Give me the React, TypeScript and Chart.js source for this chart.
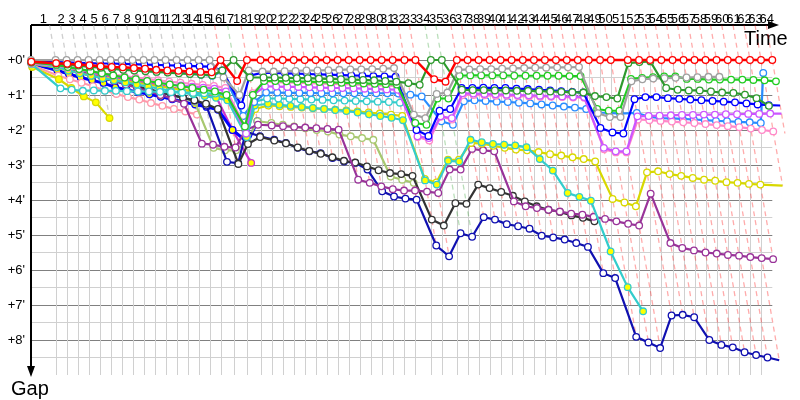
import React, { useEffect, useRef } from "react";
import { Chart, registerables } from "chart.js";
Chart.register(...registerables);

// Lap numbers shown on the time axis
const lapLabels = ["1","2","3","4","5","6","7","8","9","10","11","12","13","14","15","16","17","18","19","20","21","22","23","24","25","26","27","28","29","30","31","32","33","34","35","36","37","38","39","40","41","42","43","44","45","46","47","48","49","50","51","52","53","54","55","56","57","58","59","60","61","62","63","64"];

// Leader race time (minutes) at the end of each lap, lap 0 = start
const leaderTime = [0, 4.10, 5.93, 7.77, 9.60, 11.43, 13.27, 15.10, 16.93, 18.77,
  20.60, 22.43, 24.27, 26.10, 27.93, 29.77, 31.60, 33.77, 36.00, 38.27,
  40.13, 41.97, 43.80, 45.63, 47.47, 49.30, 51.13, 52.97, 54.80, 56.63,
  58.47, 60.30, 62.27, 64.10, 66.67, 68.50, 71.00, 72.80, 74.63, 76.47,
  78.30, 80.13, 82.00, 83.85, 85.68, 87.52, 89.33, 91.17, 93.00, 94.88,
  96.67, 99.50, 101.38, 103.22, 105.10, 106.97, 108.80, 110.63, 112.47, 114.30,
  116.17, 118.05, 119.88, 121.72, 123.60];

// Gap ticks (minutes) labelled on the gap axis
const gapTickValues = [0, 1, 2, 3, 4, 5, 6, 7, 8];

// Gap to leader (minutes) per lap, null = no lap
const _ = null;
const redGap = [0.05,0.09,0.11,0.13,0.15,0.18,0.2,0.21,0.23,0.25,
  0.28,0.3,0.31,0.33,0.34,0.35,0,0.6,0,0,
  0,0,0,0,0,0,0,0,0,0,
  0,0,0,0,0.55,0.62,0,0,0,0,
  0,0,0,0,0,0,0,0,0,0,
  0,0,0,0,0,0,0,0,0,0,
  0,0,0,0,0];
const greyGap = [0,0,0,0,0,0,0,0,0,0,
  0,0,0,0,0,0,0.5,1.0,0.3,0.33,
  0.33,0.32,0.31,0.3,0.3,0.29,0.28,0.27,0.27,0.26,
  0.25,0.23,1.56,1.66,0.97,0.93,0.28,0.27,0.26,0.26,
  0.25,0.24,0.23,0.22,0.22,0.21,0.21,0.2,1.52,1.63,
  1.63,0.61,0.55,0.53,0.52,0.51,0.5,0.49,0.48,0.48,
  _,_,_,_,_];
const blueGap = [0.05,0.06,0.07,0.08,0.09,0.1,0.1,0.11,0.12,0.13,
  0.14,0.15,0.16,0.17,0.18,0.19,0.3,1.3,0.45,0.36,
  0.37,0.38,0.39,0.4,0.41,0.42,0.43,0.44,0.45,0.46,
  0.47,0.48,2.0,2.17,1.45,1.4,0.8,0.8,0.79,0.8,
  0.8,0.82,0.83,0.85,0.87,0.89,0.91,0.93,1.94,2.07,
  2.1,1.12,1.06,1.06,1.09,1.11,1.13,1.15,1.17,1.19,
  1.21,1.24,1.27,1.29,1.3];
const darkGreenGap = [0.05,0.1,0.13,0.16,0.19,0.22,0.25,0.28,0.3,0.32,
  0.34,0.36,0.38,0.4,0.42,0.44,0.3,0,0.5,0.5,
  0.5,0.51,0.52,0.52,0.53,0.54,0.55,0.56,0.57,0.58,
  0.6,0.62,0.66,0.71,0,0,0.85,0.86,0.86,0.87,
  0.87,0.88,0.88,0.89,0.9,0.91,0.92,0.93,1.03,1.06,
  1.1,0.09,0.06,0.04,0.8,0.85,0.87,0.87,0.9,0.93,
  0.94,0.99,1.09,1.31,_];
const greenGap = [0.07,0.14,0.2,0.26,0.32,0.38,0.44,0.5,0.55,0.6,
  0.65,0.7,0.75,0.8,0.85,0.9,1.0,1.9,1.0,0.6,
  0.6,0.61,0.62,0.62,0.63,0.64,0.65,0.66,0.67,0.68,
  0.69,0.7,1.8,1.85,1.1,1.1,0.45,0.44,0.44,0.44,
  0.44,0.45,0.45,0.45,0.45,0.45,0.46,0.46,1.4,1.45,
  1.45,0.54,0.51,0.49,0.47,0.47,0.54,0.54,0.56,0.56,
  0.56,0.56,0.57,0.58,0.61];
const violetGap = [0.08,0.15,0.21,0.27,0.33,0.39,0.45,0.5,0.55,0.6,
  0.65,0.7,0.73,0.76,0.79,0.82,0.9,2.1,1.0,0.75,
  0.76,0.77,0.77,0.78,0.79,0.8,0.8,0.81,0.82,0.83,
  0.84,0.85,2.18,2.23,1.61,1.66,0.95,0.96,0.97,0.98,
  0.99,1.0,1.01,1.02,1.03,1.04,1.05,1.06,2.51,2.61,
  2.61,1.61,1.6,1.59,1.58,1.57,1.57,1.56,1.56,1.55,
  1.55,1.54,1.54,1.53,1.53];
const pinkGap = [0.1,0.16,0.22,0.28,0.33,0.38,0.42,0.46,0.5,0.54,
  0.58,0.62,0.65,0.68,0.71,0.74,0.8,1.9,0.95,0.62,
  0.63,0.64,0.65,0.66,0.67,0.68,0.69,0.7,0.71,0.72,
  0.73,0.74,2.2,2.3,1.62,1.7,1.0,1.0,1.01,1.02,
  1.02,1.03,1.04,1.05,1.05,1.06,1.07,1.08,2.55,2.64,
  2.64,1.7,1.72,1.74,1.76,1.78,1.8,1.83,1.86,1.89,
  1.92,1.96,2.0,2.04,2.1];
const skyGap = [0.06,0.1,0.13,0.16,0.19,0.22,0.25,0.27,0.29,0.31,
  0.33,0.35,0.37,0.39,0.42,0.45,0.33,1.6,1.2,0.93,
  0.93,0.94,0.94,0.94,0.95,0.95,0.95,0.95,0.95,0.95,
  0.95,0.96,0.99,1.04,1.75,1.85,1.18,1.15,1.17,1.19,
  1.2,1.22,1.24,1.27,1.3,1.33,1.36,1.4,1.5,1.51,
  1.53,1.51,1.62,1.66,1.67,1.68,1.7,1.72,1.74,1.75,
  1.77,1.78,1.8,0.37,_];
const cyanGap = [0.12,0.81,0.85,0.88,0.87,0.88,0.88,0.89,0.9,0.9,
  0.91,0.92,0.93,0.94,0.95,0.96,1.0,2.1,1.2,1.1,
  1.1,1.11,1.12,1.13,1.14,1.15,1.16,1.17,1.18,1.19,
  1.2,1.22];
const turquoiseGap = [0.1,0.2,0.3,0.38,0.45,0.52,0.58,0.64,0.7,0.76,
  0.82,0.88,0.93,0.98,1.03,1.08,1.15,2.2,1.3,1.25,
  1.28,1.31,1.34,1.37,1.4,1.43,1.46,1.5,1.55,1.6,
  1.65,1.72,3.44,3.56,2.88,2.9,2.28,2.35,2.4,2.42,
  2.44,2.49,2.83,3.16,3.8,3.91,4.02,5.47,6.49,7.18];
const yellowGap = [0.1,0.22,0.3,0.38,0.45,0.5,0.55,0.6,0.65,0.7,
  0.75,0.8,0.85,0.9,0.95,1.0,1.1,2.1,1.4,1.3,
  1.32,1.34,1.36,1.38,1.4,1.42,1.44,1.47,1.5,1.53,
  1.56,1.6,3.4,3.5,2.85,2.85,2.37,2.39,2.45,2.51,
  2.56,2.58,2.63,2.69,2.73,2.78,2.83,2.9,3.97,4.07,
  4.18,3.21,3.18,3.26,3.31,3.37,3.42,3.45,3.49,3.51,
  3.54,3.56,_,3.59,_];
const gold2Gap = [0.2,0.55,0.8,1.04,1.21,1.66];
const purpleGap = [0.1,0.18,0.26,0.34,0.42,0.5,0.6,0.7,0.8,0.9,
  1.0,1.1,1.25,2.39,2.42,2.48,2.5,2.0,1.85,1.87,
  1.89,1.91,1.93,1.95,1.97,1.99,3.42,3.51,3.61,3.69,
  3.73,3.73,3.76,3.8,3.13,3.13,2.54,2.58,2.61,4.04,
  4.18,4.23,4.28,4.33,4.39,4.42,4.48,4.54,4.61,4.68,
  4.73,3.82,5.23,5.37,5.44,5.5,5.53,5.57,5.59,5.63,
  5.66,5.69];
const blackGap = [0.1,0.2,0.28,0.36,0.44,0.52,0.6,0.68,0.76,0.84,
  0.92,1.0,1.08,1.15,1.25,1.4,2.97,2.4,2.2,2.3,
  2.38,2.5,2.6,2.68,2.78,2.88,2.93,3.04,3.15,3.23,
  3.26,3.31,4.56,4.73,4.09,4.11,3.56,3.66,3.77,3.88,
  4.04,4.18,4.28,4.34,4.44,4.51,4.61];
const navyGap = [0.1,0.2,0.28,0.36,0.44,0.52,0.6,0.68,0.76,0.84,
  0.92,1.0,1.08,1.16,1.3,2.91,2.95,2.05,2.18,2.28,
  2.37,2.51,2.61,2.66,2.8,2.9,2.94,3.13,3.75,3.9,
  3.96,3.99,5.3,5.61,4.95,5.05,4.49,4.56,4.69,4.75,
  4.82,5.02,5.07,5.13,5.23,5.34,6.09,6.23,7.91,8.07,
  8.23,7.3,7.28,7.35,8.0,8.14,8.21,8.35,8.43,8.5,
  8.58];
const oliveGap = [0.12,0.2,0.28,0.36,0.44,0.52,0.6,0.68,0.76,0.84,
  0.92,1.0,1.1,1.2,2.51,2.58,2.58,2.3,1.75,1.8,
  1.85,1.9,1.95,2.0,2.04,2.13,2.18,2.23,2.28,3.33,
  3.42,3.51];
const rosyGap = [0.15,0.45,0.55,0.65,0.75,0.87,0.97,1.06,1.13,1.23,1.31,1.4,1.47,1.56];
const royalGap = [0.1,0.3,0.4,0.5,0.58,0.66,0.78,0.85,0.92,0.98,
  1.05,1.12,1.2,1.27,1.34,1.42,2.0,2.35,1.75];
const orchidGap = [0.08,0.15,0.22,0.3,0.36,0.42,0.48,0.54,0.6,0.66,
  0.72,0.78,0.84,0.9,0.96,1.02,2.0,2.94];

const seriesList = [
  { gaps: redGap, color: "#ff0000", fill: "#ffffff", width: 2.5 },
  { gaps: darkGreenGap, color: "#2e9a2e", fill: "#ffffff", width: 2.2 },
  { gaps: greyGap, color: "#a0a0a0", fill: "#ffffff", width: 2.2 },
  { gaps: greenGap, color: "#22cc22", fill: "#ffffff", width: 2.2 },
  { gaps: blueGap, color: "#0000ff", fill: "#ffffff", width: 2.2 },
  { gaps: violetGap, color: "#cc55ff", fill: "#ffffff", width: 2.2 },
  { gaps: pinkGap, color: "#ff88c8", fill: "#ffffff", width: 2.2 },
  { gaps: skyGap, color: "#2a8cff", fill: "#ffffff", width: 2.2 },
  { gaps: cyanGap, color: "#33cccc", fill: "#ffffff", width: 2.2 },
  { gaps: turquoiseGap, color: "#33cccc", fill: "#ffff00", width: 2.2 },
  { gaps: yellowGap, color: "#d8d800", fill: "#ffffff", width: 2.2 },
  { gaps: gold2Gap, color: "#d8d800", fill: "#ffff00", width: 2.2 },
  { gaps: purpleGap, color: "#993399", fill: "#ffffff", width: 2.2 },
  { gaps: blackGap, color: "#333333", fill: "#ffffff", width: 2.2 },
  { gaps: navyGap, color: "#1010b0", fill: "#ffffff", width: 2.2 },
  { gaps: oliveGap, color: "#a8c870", fill: "#ffffff", width: 2.2 },
  { gaps: rosyGap, color: "#ff99aa", fill: "#ffffff", width: 2.2 },
  { gaps: royalGap, color: "#0000ff", fill: "#ffff00", width: 3 },
  { gaps: orchidGap, color: "#cc33cc", fill: "#ffff00", width: 2.2 },
];

const TOP_GAP = -1;
const BOTTOM_GAP = 9;

function toPoints(gaps: (number | null)[]) {
  const pts: { x: number; y: number }[] = [];
  gaps.forEach((g, i) => {
    if (g !== null && g !== undefined) pts.push({ x: leaderTime[i] + g, y: g });
  });
  return pts;
}

function leaderColorFor(lap: number) {
  let best = Infinity;
  let col = "#a0a0a0";
  for (const s of seriesList) {
    const g = s.gaps[lap];
    if (g !== null && g !== undefined && g < best) { best = g; col = s.color; }
  }
  return col;
}

function hexToRgba(hex: string, a: number) {
  const n = parseInt(hex.slice(1), 16);
  return `rgba(${(n >> 16) & 255},${(n >> 8) & 255},${n & 255},${a})`;
}

export default function App() {
  const ref = useRef<HTMLCanvasElement | null>(null);
  useEffect(() => {
    if (!ref.current) return;
    const datasets: any[] = seriesList.map((s) => ({
      data: toPoints(s.gaps),
      borderColor: s.color,
      backgroundColor: s.fill,
      pointBackgroundColor: s.fill,
      pointBorderColor: s.color,
      pointRadius: 3.3,
      pointBorderWidth: 1.3,
      borderWidth: s.width,
      showLine: true,
      tension: 0,
      clip: false,
    }));
    // lap isochrones (dashed, coloured as the lap leader)
    for (let lap = 1; lap < leaderTime.length; lap++) {
      let maxG = 0;
      for (const s of seriesList) {
        const g = s.gaps[lap];
        if (g !== null && g !== undefined && g > maxG) maxG = g;
      }
      const col = leaderColorFor(lap);
      const alpha = col === "#a0a0a0" ? 0.5 : 0.33;
      datasets.push({
        data: [
          { x: leaderTime[lap] + TOP_GAP, y: TOP_GAP },
          { x: leaderTime[lap] + maxG, y: maxG },
        ],
        borderColor: hexToRgba(col, alpha),
        borderWidth: 1.3,
        borderDash: [5, 4],
        pointRadius: 0,
        showLine: true,
        clip: false,
      });
    }

    const decor = {
      id: "decor",
      beforeDatasetsDraw(chart: any) {
        const { ctx, chartArea, scales } = chart;
        const x = scales.x, y = scales.y;
        ctx.save();
        ctx.strokeStyle = "#d0d0d0";
        ctx.lineWidth = 1;
        const y0 = y.getPixelForValue(0);
        for (let i = 1; i < leaderTime.length - 1; i++) {
          const px = Math.round(x.getPixelForValue(leaderTime[i])) + 0.5;
          ctx.beginPath();
          ctx.moveTo(px, y0);
          ctx.lineTo(px, chartArea.bottom);
          ctx.stroke();
        }
        // axes with arrows
        ctx.strokeStyle = "#000";
        ctx.fillStyle = "#000";
        ctx.lineWidth = 2;
        const left = chartArea.left;
        const top = chartArea.top;
        ctx.beginPath();
        ctx.moveTo(left, top);
        ctx.lineTo(772, top);
        ctx.stroke();
        ctx.beginPath();
        ctx.moveTo(768, top - 4);
        ctx.lineTo(779, top);
        ctx.lineTo(768, top + 4);
        ctx.closePath();
        ctx.fill();
        ctx.beginPath();
        ctx.moveTo(left, top);
        ctx.lineTo(left, chartArea.bottom - 4);
        ctx.stroke();
        ctx.beginPath();
        ctx.moveTo(left - 4, chartArea.bottom - 9);
        ctx.lineTo(left, chartArea.bottom + 2);
        ctx.lineTo(left + 4, chartArea.bottom - 9);
        ctx.closePath();
        ctx.fill();
        ctx.font = "20px 'Liberation Sans', Arial, sans-serif";
        ctx.textBaseline = "alphabetic";
        ctx.textAlign = "left";
        ctx.fillText("Time", 744, 45);
        ctx.fillText("Gap", 11, 395);
        ctx.restore();
      },
    };

    const chart = new Chart(ref.current, {
      type: "line",
      data: { datasets },
      options: {
        animation: false,
        responsive: false,
        devicePixelRatio: 1,
        events: [],
        layout: { padding: { left: 0, top: 0, right: 27.7, bottom: 25 } },
        plugins: { legend: { display: false }, tooltip: { enabled: false } },
        scales: {
          x: {
            type: "linear",
            position: "top",
            min: 0,
            max: leaderTime[leaderTime.length - 1],
            afterBuildTicks: (s: any) => {
              s.ticks = lapLabels.map((_l, i) => ({ value: (leaderTime[i] + leaderTime[i + 1]) / 2 }));
            },
            afterFit: (s: any) => { s.height = 25; },
            ticks: {
              autoSkip: false,
              maxRotation: 0,
              minRotation: 0,
              padding: -2,
              color: "#000",
              font: { family: "'Liberation Sans', Arial, sans-serif", size: 13 },
              callback: (_v: any, i: number) => lapLabels[i],
            },
            grid: { display: false, drawTicks: false },
            border: { display: false },
          },
          y: {
            type: "linear",
            reverse: true,
            min: TOP_GAP,
            max: BOTTOM_GAP,
            afterFit: (s: any) => { s.width = 31; },
            ticks: {
              stepSize: 0.5,
              autoSkip: false,
              padding: 6,
              color: "#000",
              font: { family: "'Liberation Sans', Arial, sans-serif", size: 13 },
              callback: (v: any) => (gapTickValues.includes(v) ? `+${v}'` : ""),
            },
            grid: {
              drawTicks: false,
              lineWidth: 1,
              color: (c: any) => {
                const v = c.tick ? c.tick.value : 0;
                if (v < 0 || v >= BOTTOM_GAP) return "rgba(0,0,0,0)";
                return Number.isInteger(v) ? "#808080" : "#d0d0d0";
              },
            },
            border: { display: false },
          },
        },
      },
      plugins: [decor],
    } as any);
    return () => chart.destroy();
  }, []);
  return (
    <div style={{ position: "fixed", left: 0, top: 0, width: 800, height: 400, background: "#fff" }}>
      <canvas ref={ref} width={800} height={400} />
    </div>
  );
}
